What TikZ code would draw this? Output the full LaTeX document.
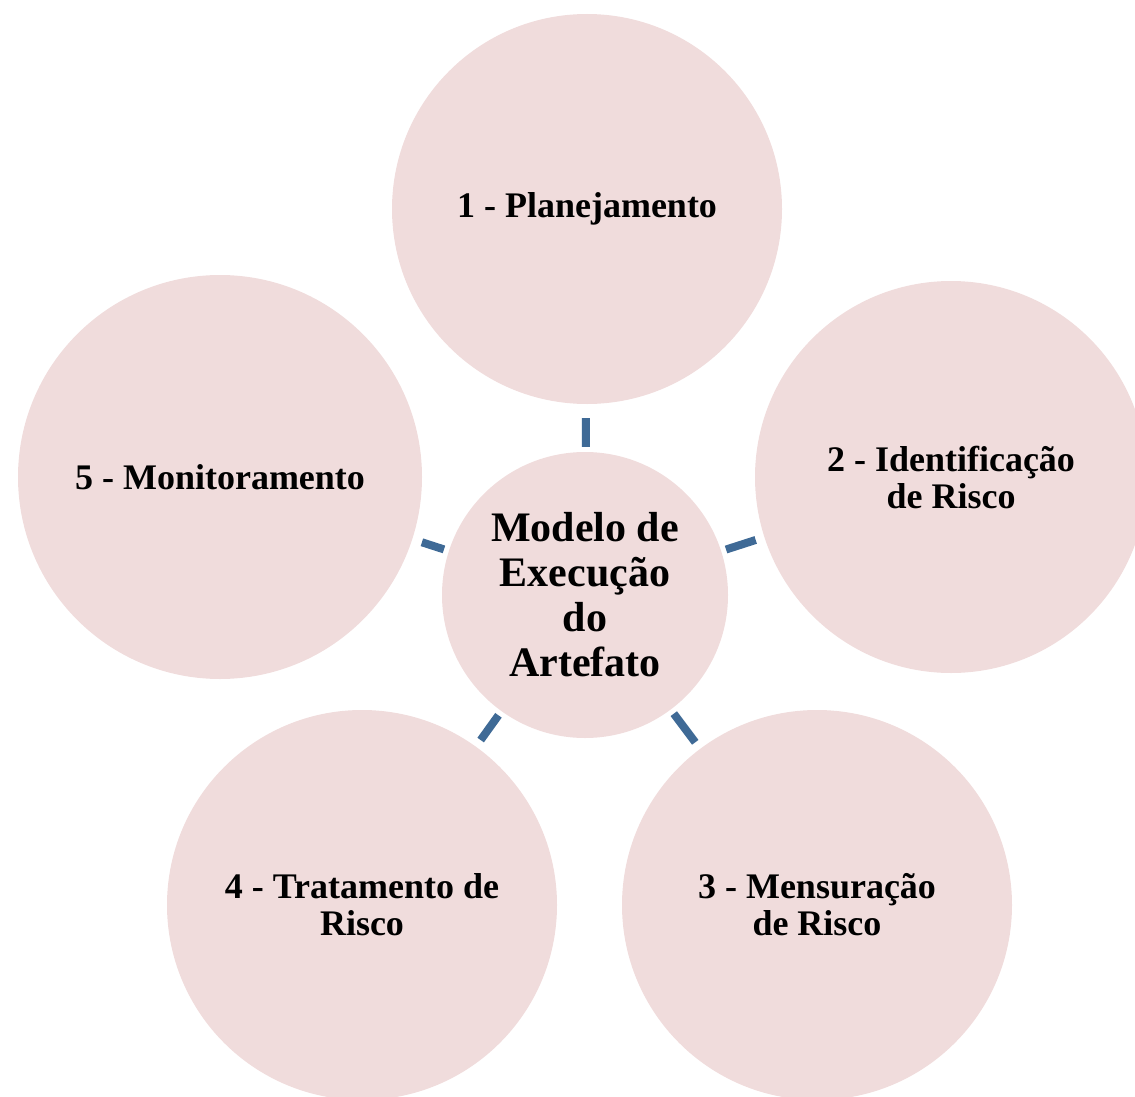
\documentclass[tikz,border=0pt]{standalone}
\usepackage{fontspec}
\setmainfont{Liberation Serif}
\definecolor{petal}{HTML}{F0DCDC}
\definecolor{link}{HTML}{3F6A96}
\tikzset{
  petal/.style={circle, fill=petal, inner sep=0pt, align=center,
    font=\fontsize{36}{37}\selectfont\bfseries},
  hub/.style={circle, fill=petal, inner sep=0pt, align=center,
    font=\fontsize{42}{45}\selectfont\bfseries},
  conn/.style={draw=link, line width=8pt, shorten <=5pt}
}
\begin{document}
\begin{tikzpicture}[x=1pt,y=-1pt]
\useasboundingbox (0,0) rectangle (1135,1097);
\node[hub, minimum size=286pt] (c) at (585,595) {Modelo de\\Execução\\do\\Artefato};
\node[petal, minimum size=390pt] (n1) at (587,209) {1 - Planejamento};
\node[petal, minimum size=392pt] (n2) at (951,477) {2 - Identificação\\de Risco};
\node[petal, minimum size=390pt] (n3) at (817,905) {3 - Mensuração\\de Risco};
\node[petal, minimum size=390pt] (n4) at (362,905) {4 - Tratamento de\\Risco};
\node[petal, minimum size=404pt] (n5) at (220,477) {5 - Monitoramento};
\draw[conn, shorten >=14pt] (c) -- (n1);
\draw[conn, shorten >=9pt] (c) -- (n2);
\draw[conn, shorten >=8pt] (c) -- (n3);
\draw[conn, shorten >=8pt] (c) -- (n4);
\draw[conn, shorten >=10pt] (c) -- (n5);
\end{tikzpicture}
\end{document}
